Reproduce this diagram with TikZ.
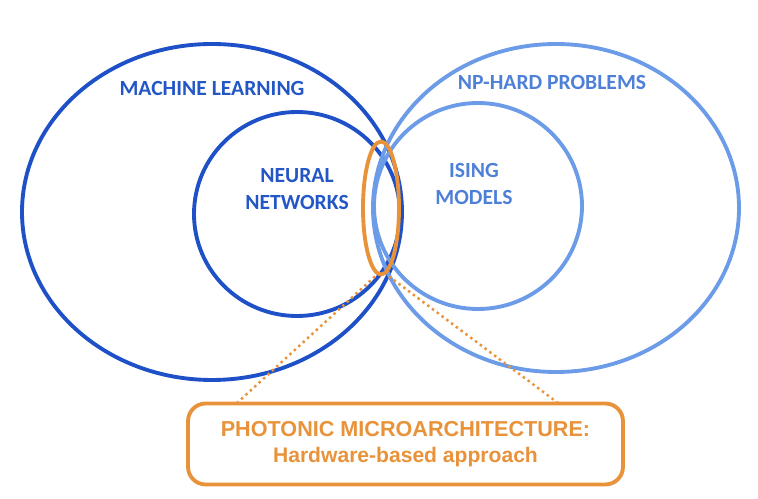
\documentclass[tikz,border=0pt]{standalone}
\usepackage{fontspec}
\setmainfont{Carlito}
\newfontfamily\boxfont{Liberation Sans}
\usetikzlibrary{shapes.geometric}
\definecolor{mlblue}{HTML}{1E50C8}
\definecolor{npblue}{HTML}{6C9CE8}
\definecolor{mltext}{HTML}{2457C6}
\definecolor{nptext}{HTML}{4F80D8}
\definecolor{photon}{HTML}{E8923A}
\tikzset{
  setlabel/.style={font=\bfseries\fontsize{12.3}{15}\selectfont, align=center},
  dotlink/.style={photon, line width=1.4pt, dotted},
}
\begin{document}
\begin{tikzpicture}[x=0.02cm,y=-0.02cm]
    \useasboundingbox (0,0) rectangle (758,499);
    % Machine learning
    \draw[mlblue, line width=2.2pt] (212,212) ellipse (190 and 168);
    \draw[mlblue, line width=2.2pt] (297,214) ellipse (103 and 102);
    % NP-hard problems
    \draw[npblue, line width=2.2pt] (556,208) ellipse (183 and 164);
    \draw[npblue, line width=2.2pt] (478,206) ellipse (104 and 103);

    % Etiquettes
    \node[setlabel, mltext] (ml) at (212,88) {MACHINE LEARNING};
    \node[setlabel, mltext] (nn) at (297,189) {NEURAL\\NETWORKS};
    \node[setlabel, nptext] (np) at (552,82) {NP-HARD PROBLEMS};
    \node[setlabel, nptext] (ising) at (474,184) {ISING\\MODELS};

    % Intersection photonique
    \node[ellipse, draw=photon, line width=2.2pt, minimum width=0.72cm, minimum height=2.66cm, inner sep=0pt] (core) at (381,208) {};
    \node[draw=photon, line width=2.2pt, rounded corners=10pt, minimum width=8.7cm, minimum height=1.62cm, align=center, photon, font=\boxfont\bfseries] (arch) at (405.5,444)
      {{\fontsize{12.3}{15}\selectfont PHOTONIC MICROARCHITECTURE:}\\[3pt]{\fontsize{12}{14}\selectfont Hardware-based approach}};
    \coordinate (archl) at (237,403);
    \coordinate (archr) at (558,403);
    \draw[dotlink] (core.south) ++(-6,0) -- (archl);
    \draw[dotlink] (core.south) ++(8,0) -- (archr);
\end{tikzpicture}
\end{document}
